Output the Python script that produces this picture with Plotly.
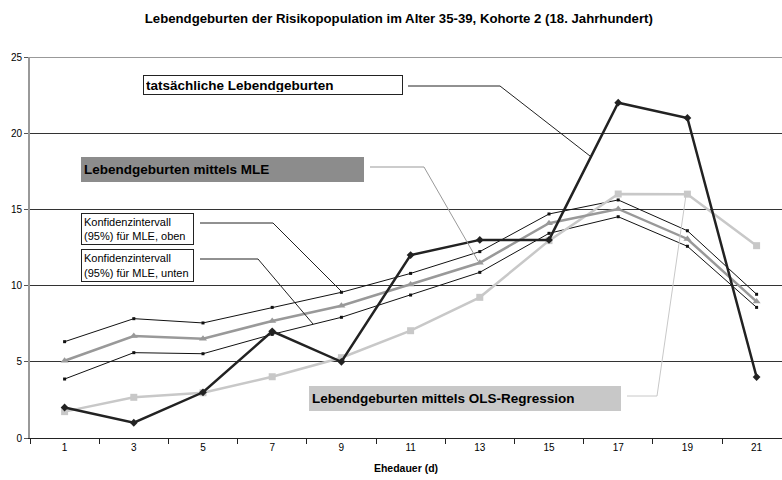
import plotly.graph_objects as go

# ---- data ----
ehedauer = [1, 3, 5, 7, 9, 11, 13, 15, 17, 19, 21]
tick_labels = ["1", "3", "5", "7", "9", "11", "13", "15", "17", "19", "21"]
tatsaechlich = [2.0, 1.0, 3.0, 7.0, 5.0, 12.0, 13.0, 13.0, 22.0, 21.0, 4.0]
mle = [5.07, 6.69, 6.52, 7.68, 8.68, 10.08, 11.5, 14.09, 15.03, 13.06, 8.95]
ki_oben = [6.32, 7.83, 7.55, 8.57, 9.56, 10.8, 12.23, 14.7, 15.62, 13.6, 9.43]
ki_unten = [3.87, 5.6, 5.53, 6.8, 7.92, 9.38, 10.87, 13.43, 14.52, 12.58, 8.57]
ols = [1.73, 2.67, 2.97, 4.02, 5.27, 7.04, 9.23, 12.95, 16.01, 16.0, 12.62]

FONT = "Liberation Sans, Arial, sans-serif"

fig = go.Figure()
fig.add_trace(go.Scatter(x=ehedauer, y=ki_oben, mode="lines+markers",
                         line=dict(color="#111", width=1),
                         marker=dict(symbol="square", size=3, color="#111")))
fig.add_trace(go.Scatter(x=ehedauer, y=ki_unten, mode="lines+markers",
                         line=dict(color="#111", width=1),
                         marker=dict(symbol="square", size=3, color="#111")))
fig.add_trace(go.Scatter(x=ehedauer, y=ols, mode="lines+markers",
                         line=dict(color="#c8c8c8", width=2.5),
                         marker=dict(symbol="square", size=7, color="#c8c8c8")))
fig.add_trace(go.Scatter(x=ehedauer, y=mle, mode="lines+markers",
                         line=dict(color="#999999", width=2.5),
                         marker=dict(symbol="triangle-up", size=7, color="#999999")))
fig.add_trace(go.Scatter(x=ehedauer, y=tatsaechlich, mode="lines+markers",
                         line=dict(color="#222222", width=2.5),
                         marker=dict(symbol="diamond", size=6, color="#222222")))

# callout helpers (pixel -> data coordinates of the plot area)
X0, XS = 30.0, 34.6
Y0, YS = 438.0, 15.24
def dx(px):
    return (px - X0) / XS
def dy(py):
    return (Y0 - py) / YS

shapes = []
def leader(pts, color):
    path = "M " + " L ".join(f"{dx(a):.4f},{dy(b):.4f}" for a, b in pts)
    shapes.append(dict(type="path", path=path, xref="x", yref="y",
                       line=dict(color=color, width=1)))

leader([(408, 86), (500, 86), (590, 156)], "#222")
leader([(370, 167), (424, 167), (478, 261)], "#999")
leader([(200, 223), (273, 223), (342, 292)], "#222")
leader([(200, 259), (258, 259), (313, 324)], "#222")
leader([(627, 396), (657, 396), (686, 195)], "#c8c8c8")
# top border
shapes.append(dict(type="line", xref="paper", yref="y", x0=0, x1=1, y0=25, y1=25,
                   line=dict(color="#999", width=2)))

annotations = []
def box(text, left, top, w, h, bg, border, size, bold):
    t = f"<b>{text}</b>" if bold else text
    annotations.append(dict(
        text=t, x=dx(left), y=dy(top), xref="x", yref="y",
        xanchor="left", yanchor="top", showarrow=False, align="left",
        width=w, height=h, valign="middle",
        bgcolor=bg, bordercolor=border if border else bg,
        borderwidth=1, borderpad=2,
        font=dict(family=FONT, size=size, color="#000")))

box("tatsächliche Lebendgeburten", 143, 75, 254, 14, "white", "#222", 13.5, True)
box("Lebendgeburten mittels MLE", 81, 157, 277, 19, "#8c8c8c", None, 13.5, True)
box("Konfidenzintervall<br>(95%) für MLE, oben", 81, 213, 107, 26, "white", "#222", 11, False)
box("Konfidenzintervall<br>(95%) für MLE, unten", 81, 249, 107, 27, "white", "#222", 11, False)
box("Lebendgeburten mittels OLS-Regression", 309, 386, 306, 19, "#c8c8c8", None, 13.5, True)

fig.update_layout(
    width=782, height=480,
    margin=dict(l=30, r=0, t=57, b=42),
    paper_bgcolor="white", plot_bgcolor="white",
    showlegend=False,
    font=dict(family=FONT, size=10, color="#000"),
    title=dict(text="<b>Lebendgeburten der Risikopopulation im Alter 35-39, Kohorte 2 (18. Jahrhundert)</b>",
               x=0.51, xanchor="center", y=1 - 18 / 480, yanchor="middle",
               font=dict(family=FONT, size=13.2, color="#000")),
    xaxis=dict(range=[0, dx(782)], tickvals=ehedauer, ticktext=tick_labels,
               ticks="", showgrid=False, zeroline=False, automargin=False,
               showline=True, linecolor="#222", linewidth=1,
               tickfont=dict(size=10),
               minor=dict(tickvals=[0, 2, 4, 6, 8, 10, 12, 14, 16, 18, 20],
                          ticks="outside", ticklen=5, tickcolor="#222", showgrid=False),
               title=dict(text="<b>Ehedauer (d)</b>", font=dict(size=10.5), standoff=12)),
    yaxis=dict(range=[0, 25], tickvals=[0, 5, 10, 15, 20, 25],
               ticks="outside", ticklen=4, tickcolor="#555", automargin=False,
               showgrid=True, gridcolor="#333", gridwidth=1,
               zeroline=False, showline=True, linecolor="#999", linewidth=2,
               tickfont=dict(size=10)),
    shapes=shapes, annotations=annotations,
)

fig.write_html("out.html", config={"displayModeBar": False},
               post_script="document.body.style.margin='0';document.body.style.padding='0';")
